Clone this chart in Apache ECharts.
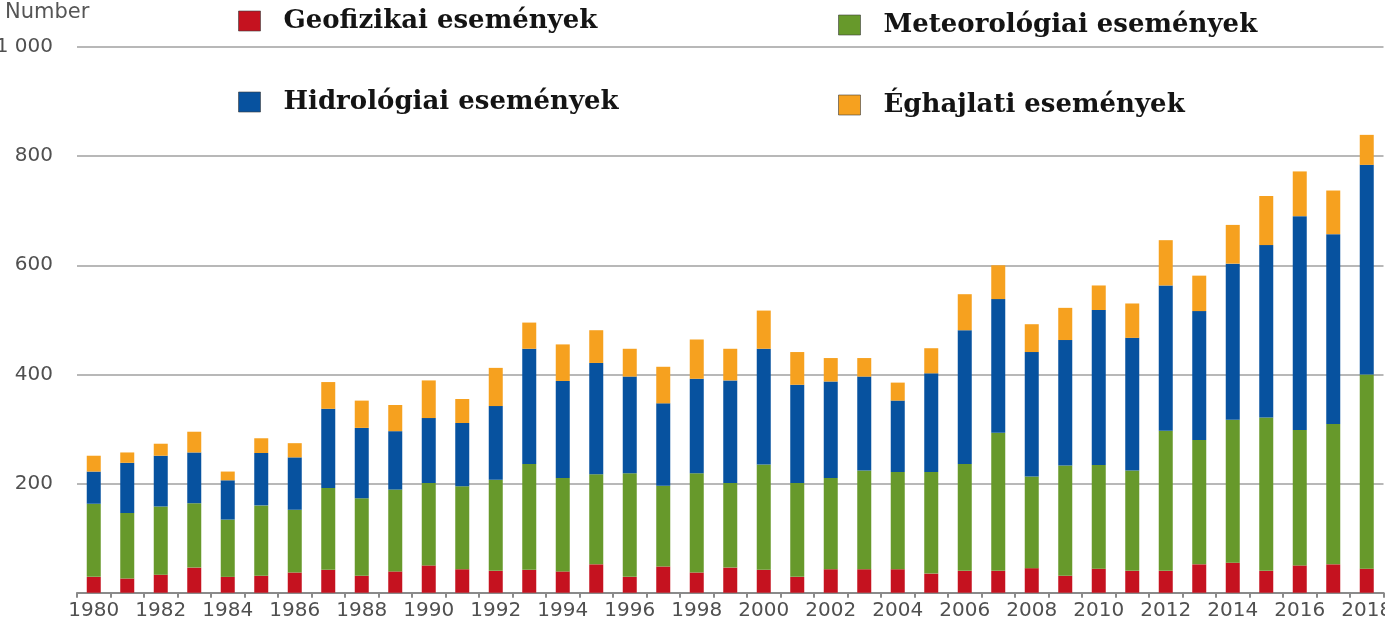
<!DOCTYPE html>
<html>
<head>
<meta charset="utf-8">
<script src="https://cdn.jsdelivr.net/npm/echarts@6/dist/echarts.min.js"></script>
<style>
html,body{margin:0;padding:0;background:#fff;}
#chart{width:1385px;height:630px;}
</style>
</head>
<body>
<div id="chart"></div>
<script>
const years = ['1980','1981','1982','1983','1984','1985','1986','1987','1988','1989',
  '1990','1991','1992','1993','1994','1995','1996','1997','1998','1999',
  '2000','2001','2002','2003','2004','2005','2006','2007','2008','2009',
  '2010','2011','2012','2013','2014','2015','2016','2017','2018'];

const seriesNames = ['Geofizikai események','Meteorológiai események','Hidrológiai események','Éghajlati események'];

const geofizikai = [29,26,33,46,29,31,37,42,31,39,50,43,40,42,39,52,29,48,37,46,42,29,43,43,43,35,40,40,45,31,44,40,40,52,55,40,50,52,44];
const meteorologiai = [134,120,125,118,105,129,115,150,142,150,151,152,167,194,171,165,190,148,182,155,193,172,167,181,178,186,196,253,168,202,190,184,257,228,262,281,248,257,356];
const hidrologiai = [59,92,93,93,72,96,96,145,129,107,119,116,135,211,178,204,177,151,173,188,212,180,177,172,131,181,245,245,228,230,284,243,266,236,286,316,392,348,384];
const eghajlati = [29,19,22,38,16,27,26,49,50,48,69,44,70,48,67,60,51,67,72,58,70,60,43,34,33,46,66,62,51,59,45,63,83,65,71,90,82,80,55];

const yTicks = [0,200,400,600,800,1000];
const yAxisTitle = 'Number';

const colors = ['#c5121f','#67992b','#07529f','#f6a11f'];
const values = [geofizikai, meteorologiai, hidrologiai, eghajlati];

const legendFont = {fontFamily:'"DejaVu Serif", serif', fontWeight:'bold', fontSize:26, color:'#141414', padding:[0,0,0,18]};
const legendPos = [[238,8],[838,12],[238,89],[838,92]];

const chart = echarts.init(document.getElementById('chart'));
chart.setOption({
  animation:false,
  backgroundColor:'#fff',
  title:{text:yAxisTitle,left:5,top:2,padding:0,textStyle:{fontFamily:'"DejaVu Sans", sans-serif',fontSize:21,fontWeight:'normal',color:'#555'}},
  legend: seriesNames.map((n,i)=>({
    data:[n], left:legendPos[i][0], top:legendPos[i][1], padding:0,
    icon:'rect', itemWidth:22, itemHeight:20,
    itemStyle:{borderColor:'rgba(60,60,60,0.6)',borderWidth:1},
    textStyle:legendFont, selectedMode:false
  })),
  grid:{left:77,right:1.5,top:47,bottom:37.3,containLabel:false,outerBoundsMode:'none'},
  xAxis:{
    type:'category', data:years,
    axisLine:{lineStyle:{color:'#8a8a8a',width:2}},
    axisTick:{show:true,interval:0,length:5,lineStyle:{color:'#8a8a8a',width:2}},
    axisLabel:{interval:1,margin:8,fontFamily:'"DejaVu Sans", sans-serif',fontSize:20,color:'#505050',hideOverlap:false}
  },
  yAxis:{
    type:'value', min:yTicks[0], max:yTicks[yTicks.length-1], interval:200,
    axisLine:{show:false}, axisTick:{show:false},
    splitLine:{lineStyle:{color:'#b8b8b8',width:2}},
    axisLabel:{margin:24,fontFamily:'"DejaVu Sans", sans-serif',fontSize:20,color:'#505050',
      formatter:v=> v===0 ? '' : (v>=1000 ? String(v).replace(/(\d)(\d{3})$/,'$1 $2') : String(v))}
  },
  series: seriesNames.map((n,i)=>({
    name:n, type:'bar', stack:'total', barWidth:14,
    itemStyle:{color:colors[i]},
    data:values[i]
  }))
});
</script>
</body>
</html>
